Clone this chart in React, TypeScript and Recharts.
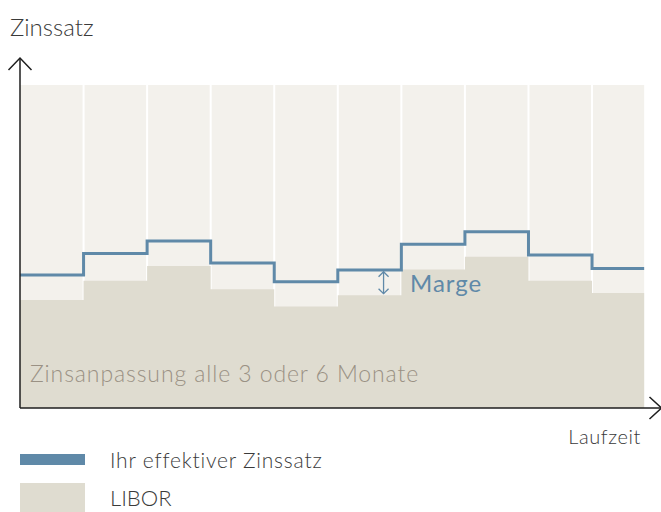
import React from "react";
import {
  ComposedChart,
  Area,
  Line,
  XAxis,
  YAxis,
  ReferenceArea,
  ReferenceLine,
  ReferenceDot,
} from "recharts";

// Periods (each = one rate reset, every 3 or 6 months)
const periods = [0, 1, 2, 3, 4, 5, 6, 7, 8, 9];
const periodEnd = 9.82; // the last period is shown cut short
const liborValues = [3.34, 3.94, 4.4, 3.68, 3.14, 3.49, 4.29, 4.68, 3.94, 3.56];
const effectiveValues = [4.12, 4.78, 5.17, 4.49, 3.91, 4.27, 5.07, 5.46, 4.74, 4.32];
const gridPeriods = [1, 2, 3, 4, 5, 6, 7, 8, 9];
const backgroundTop = 10;
const xMax = 10.085;
const yMax = 10.836;
const margeIndex = 5;
const margeX = 5.72;

const yLabel = "Zinssatz";
const xLabel = "Laufzeit";
const margeLabel = "Marge";
const noteLabel = "Zinsanpassung alle 3 oder 6 Monate";
const legendEffective = "Ihr effektiver Zinssatz";
const legendLibor = "LIBOR";

const BLUE = "#5f89a8";
const LIBOR_FILL = "#dfdcd0";
const BG_FILL = "#f3f1ec";
const AXIS = "#1e1e1e";
const FONT = "Lato, 'Open Sans', sans-serif";

const data = [
  ...periods.map((p, i) => ({ x: p, libor: liborValues[i], eff: effectiveValues[i] })),
  {
    x: periodEnd,
    libor: liborValues[liborValues.length - 1],
    eff: effectiveValues[effectiveValues.length - 1],
  },
];

const UpArrow = (props: any) => {
  const { cx, cy } = props;
  return (
    <path
      d={`M${cx - 11.5},${cy + 12} L${cx},${cy} L${cx + 11.5},${cy + 12}`}
      fill="none"
      stroke={AXIS}
      strokeWidth={1.5}
    />
  );
};

const RightArrow = (props: any) => {
  const { cx, cy } = props;
  return (
    <path
      d={`M${cx - 11.5},${cy - 11} L${cx + 0.5},${cy} L${cx - 11.5},${cy + 11}`}
      fill="none"
      stroke={AXIS}
      strokeWidth={1.5}
    />
  );
};

const DoubleArrow = (props: any) => {
  const { cx, cy } = props;
  const h = 11;
  return (
    <g stroke={BLUE} strokeWidth={1.3} fill="none">
      <line x1={cx} y1={cy - h} x2={cx} y2={cy + h} />
      <path d={`M${cx - 5},${cy - h + 5} L${cx},${cy - h} L${cx + 5},${cy - h + 5}`} />
      <path d={`M${cx - 5},${cy + h - 5} L${cx},${cy + h} L${cx + 5},${cy + h - 5}`} />
    </g>
  );
};

export default function App() {
  return (
    <div style={{ position: "absolute", left: 0, top: 0, width: 661, height: 512, background: "#fff" }}>
      <ComposedChart
        width={661}
        height={512}
        data={data}
        margin={{ top: 58, right: 0, bottom: 104, left: 20 }}
      >
        <XAxis
          type="number"
          dataKey="x"
          domain={[0, xMax]}
          allowDataOverflow
          hide
        />
        <YAxis type="number" domain={[0, yMax]} allowDataOverflow hide />
        <ReferenceArea
          x1={0}
          x2={periodEnd}
          y1={0}
          y2={backgroundTop}
          fill={BG_FILL}
          fillOpacity={1}
          stroke="none"
          zIndex={-60}
        />
        {gridPeriods.map((g) => (
          <ReferenceLine
            key={g}
            segment={[
              { x: g, y: 0 },
              { x: g, y: backgroundTop },
            ]}
            stroke="#ffffff"
            strokeWidth={2}
            zIndex={-55}
          />
        ))}
        <Area
          type="stepAfter"
          dataKey="libor"
          stroke="none"
          fill={LIBOR_FILL}
          fillOpacity={1}
          isAnimationActive={false}
          dot={false}
          activeDot={false}
        />
        <Line
          type="stepAfter"
          dataKey="eff"
          stroke={BLUE}
          strokeWidth={3}
          dot={false}
          activeDot={false}
          isAnimationActive={false}
        />
        <ReferenceLine
          segment={[
            { x: 0, y: 0 },
            { x: 0, y: yMax },
          ]}
          stroke={AXIS}
          strokeWidth={1.5}
          ifOverflow="visible"
          zIndex={600}
        />
        <ReferenceLine
          segment={[
            { x: 0, y: 0 },
            { x: xMax, y: 0 },
          ]}
          stroke={AXIS}
          strokeWidth={1.5}
          ifOverflow="visible"
          zIndex={600}
        />
        <ReferenceDot
          x={margeX}
          y={(liborValues[margeIndex] + effectiveValues[margeIndex]) / 2}
          ifOverflow="visible"
          shape={DoubleArrow}
        />
        <ReferenceDot x={0} y={yMax} ifOverflow="visible" shape={UpArrow} />
        <ReferenceDot x={xMax} y={0} ifOverflow="visible" shape={RightArrow} />
      </ComposedChart>
      <svg
        width={661}
        height={512}
        style={{ position: "absolute", left: 0, top: 0, pointerEvents: "none" }}
      >
        <g fontFamily={FONT} fontWeight={300}>
          <text x={10} y={36} fontSize={24} fill="#3a3a3a">
            {yLabel}
          </text>
          <text x={641} y={444} fontSize={20} letterSpacing={0.6} fill="#3a3a3a" textAnchor="end">
            {xLabel}
          </text>
          <text x={410} y={292} fontSize={24} fontWeight={400} letterSpacing={1} fill={BLUE}>
            {margeLabel}
          </text>
          <text x={30} y={382} fontSize={23} letterSpacing={0.9} fill="#9a9184">
            {noteLabel}
          </text>
          <rect x={20} y={454} width={65} height={11} fill={BLUE} />
          <text x={110} y={468} fontSize={21} letterSpacing={0.8} fill="#3a3a3a">
            {legendEffective}
          </text>
          <rect x={20} y={483} width={65} height={29} fill={LIBOR_FILL} />
          <text x={110} y={506} fontSize={22} fill="#3a3a3a">
            {legendLibor}
          </text>
        </g>
      </svg>
    </div>
  );
}
